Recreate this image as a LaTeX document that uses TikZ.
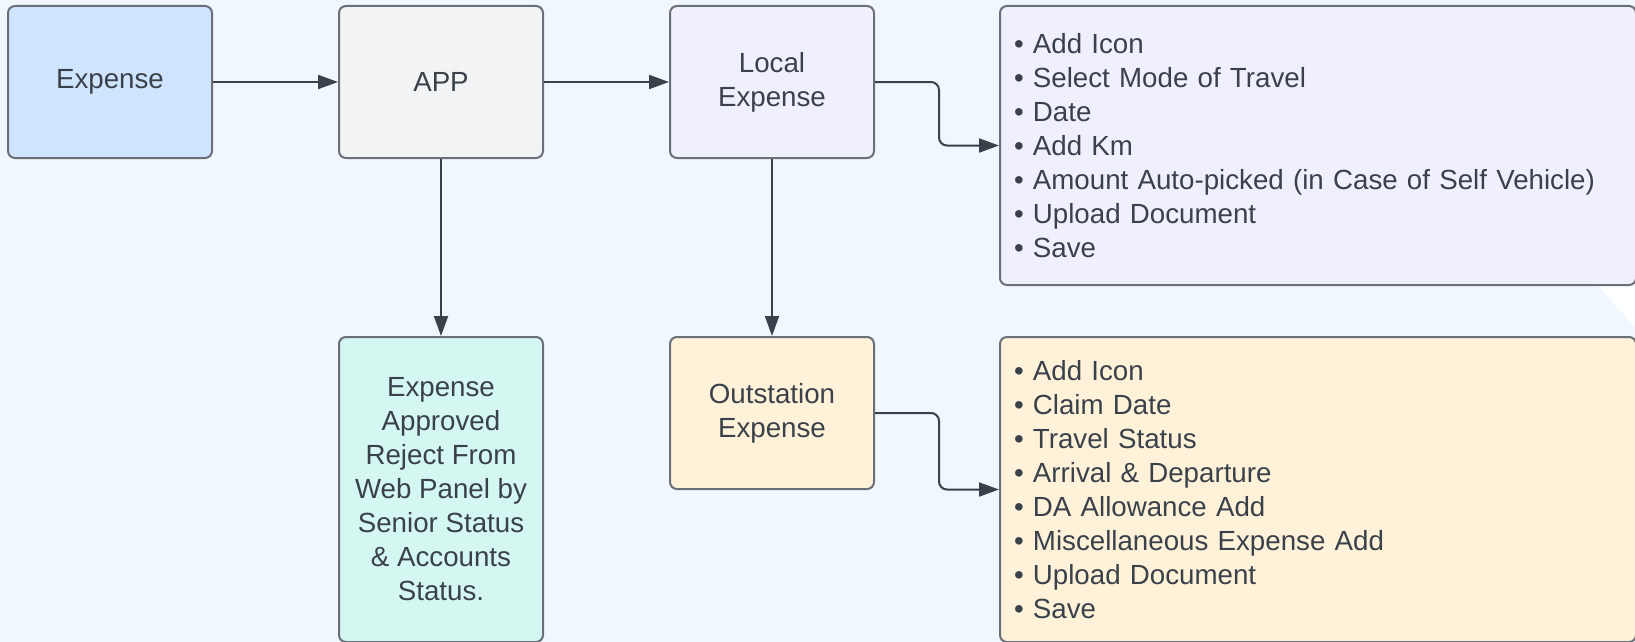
\documentclass[tikz,border=0pt]{standalone}
\usepackage{fontspec}
\setmainfont{Liberation Sans}
\usepackage{tikz}
\usetikzlibrary{positioning}
\usetikzlibrary{arrows.meta}

\definecolor{bgblue}{HTML}{F0F7FF}
\definecolor{expblue}{HTML}{CFE4FF}
\definecolor{appgray}{HTML}{F2F3F5}
\definecolor{lavender}{HTML}{F0F0FD}
\definecolor{mint}{HTML}{D4F7F1}
\definecolor{cream}{HTML}{FFF2D9}
\definecolor{boxline}{HTML}{6B7078}
\definecolor{inkgray}{HTML}{3A414A}

\begin{document}
\begin{tikzpicture}[
    x=1pt, y=1pt,
    box/.style={draw=boxline, line width=2pt, rounded corners=7pt, text=inkgray,
        minimum width=204pt, minimum height=152pt, inner sep=0pt, align=center,
        font=\fontsize{27.7}{34}\selectfont},
    listbox/.style={box, minimum width=636pt, inner xsep=14pt, text width=608pt, align=left},
    conn/.style={draw=inkgray, line width=2pt, rounded corners=8pt,
        -{Triangle[length=20pt,width=14pt]}},
    node distance=177pt and 125pt
    ]
    %Background
    \path[use as bounding box, fill=bgblue] (0,0) rectangle (1635,-642);
    \fill[white] (1597,-285) -- (1635,-285) -- (1635,-327) -- cycle;

    %Nodes
    \node[box, fill=expblue, anchor=north west] (expense) at (7,-5) {Expense};
    \node[box, fill=appgray] (app) [right=of expense] {APP};
    \node[box, fill=lavender] (local) [right=of app] {Local\\Expense};

    \node[listbox, fill=lavender, minimum height=279pt] (locallist)
        [below right=0pt and 124pt of local.north east]
        {\textbullet\ Add Icon\\
         \textbullet\ Select Mode of Travel\\
         \textbullet\ Date\\
         \textbullet\ Add Km\\
         \textbullet\ Amount Auto-picked (in Case of Self Vehicle)\\
         \textbullet\ Upload Document\\
         \textbullet\ Save};

    \node[box, fill=mint, minimum height=305pt] (approved) [below=of app]
        {Expense\\Approved\\Reject From\\Web Panel by\\Senior Status\\\& Accounts\\Status.};
    \node[box, fill=cream] (outstation) [below=of local] {Outstation\\Expense};

    \node[listbox, fill=cream, minimum height=305pt] (outlist)
        [below right=0pt and 124pt of outstation.north east]
        {\textbullet\ Add Icon\\
         \textbullet\ Claim Date\\
         \textbullet\ Travel Status\\
         \textbullet\ Arrival \& Departure\\
         \textbullet\ DA Allowance Add\\
         \textbullet\ Miscellaneous Expense Add\\
         \textbullet\ Upload Document\\
         \textbullet\ Save\\[18pt]};

    %Lines
    \draw[conn] (expense) -- (app);
    \draw[conn] (app) -- (local);
    \draw[conn] (local.east) -- ++(64,0) |- (locallist.west);
    \draw[conn] (app) -- (approved);
    \draw[conn] (local) -- (outstation);
    \draw[conn] (outstation.east) -- ++(64,0) |- (outlist.west);

\end{tikzpicture}
\end{document}
